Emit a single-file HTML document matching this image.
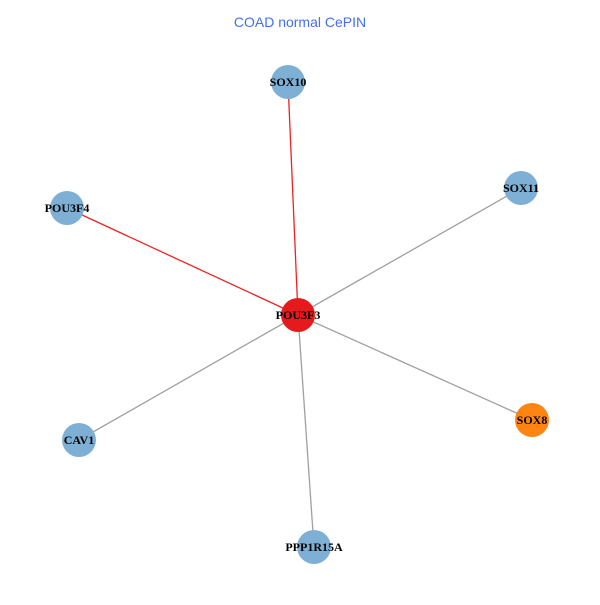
<!DOCTYPE html>
<html><head><style>body{margin:0;background:#fff}</style></head><body>
<svg width="600" height="600" xmlns="http://www.w3.org/2000/svg">
<rect width="600" height="600" fill="#fff"/>
<text x="300" y="27" text-anchor="middle" font-family="Liberation Sans, sans-serif" font-size="14" fill="#4470f0">COAD normal CePIN</text>
<g stroke-width="1.3">
<line x1="298" y1="315" x2="288" y2="82" stroke="#ee2222"/>
<line x1="298" y1="315" x2="67" y2="208" stroke="#ee2222"/>
<line x1="298" y1="315" x2="521" y2="188" stroke="#a0a0a0"/>
<line x1="298" y1="315" x2="532" y2="420" stroke="#a0a0a0"/>
<line x1="298" y1="315" x2="79" y2="440" stroke="#a0a0a0"/>
<line x1="298" y1="315" x2="314" y2="547" stroke="#a0a0a0"/>
</g>
<g>
<circle cx="288" cy="82" r="17" fill="#7eb0d5"/>
<circle cx="67" cy="208" r="17" fill="#7eb0d5"/>
<circle cx="521" cy="188" r="17" fill="#7eb0d5"/>
<circle cx="532" cy="420" r="17" fill="#ff8411"/>
<circle cx="79" cy="440" r="17" fill="#7eb0d5"/>
<circle cx="314" cy="547" r="17" fill="#7eb0d5"/>
<circle cx="298" cy="315" r="17" fill="#e41a1c"/>
</g>
<g font-family="Liberation Serif, serif" font-weight="bold" font-size="12" text-anchor="middle" fill="#000">
<text x="288" y="86">SOX10</text>
<text x="67" y="212">POU3F4</text>
<text x="521" y="192">SOX11</text>
<text x="532" y="424">SOX8</text>
<text x="79" y="444">CAV1</text>
<text x="314" y="551">PPP1R15A</text>
<text x="298" y="319">POU3F3</text>
</g>
</svg>
</body></html>
